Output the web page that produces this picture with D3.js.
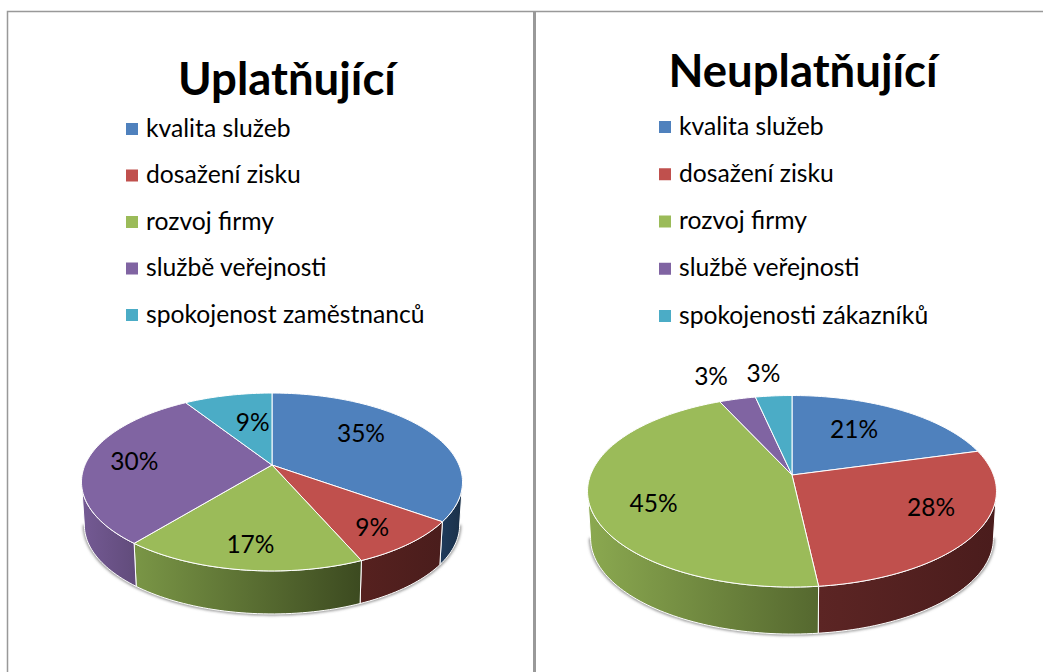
<!DOCTYPE html>
<html>
<head>
<meta charset="utf-8">
<script src="https://cdn.jsdelivr.net/npm/d3@7"></script>
<style>
    html, body { margin: 0; padding: 0; background: #fff; }
    svg { display: block; }
    text { font-family: Lato, "Noto Sans", sans-serif; fill: #000; }
</style>
</head>
<body>
<svg id="chart" width="1043" height="672"></svg>
<script>
// data
var leftTitle = "Uplatňující";
var leftCategories = ["kvalita služeb", "dosažení zisku", "rozvoj firmy", "službě veřejnosti", "spokojenost zaměstnanců"];
var leftValues = [35, 8.55, 17.25, 30.2, 9];

var rightTitle = "Neuplatňující";
var rightCategories = ["kvalita služeb", "dosažení zisku", "rozvoj firmy", "službě veřejnosti", "spokojenosti zákazníků"];
var rightValues = [20.7, 27.55, 44.95, 3.4, 3.4];

var sliceColors = ["#4f81bd", "#c0504d", "#9bbb59", "#8064a2", "#4bacc6"];

// side wall gradients, [left colour, right colour]
var leftSides = [["#1f3a5a", "#1a3048"], ["#56211f", "#4a1d1c"], ["#7a9646", "#3c4a20"], ["#745a94", "#624c7c"], ["#2f7f94", "#2f7f94"]];
var rightSides = [["#1f3a5a", "#1a3048"], ["#5c2524", "#4a1c1c"], ["#8ba950", "#55682f"], ["#745a94", "#624c7c"], ["#2f7f94", "#2f7f94"]];

var svg = d3.select("#chart");
var defs = svg.append("defs");
var percent = d3.format(".0%");

defs.append("filter").attr("id", "soft")
    .attr("x", "-5%").attr("y", "-5%").attr("width", "110%").attr("height", "115%")
    .append("feGaussianBlur").attr("stdDeviation", 1.6);

// frame lines of the table the charts sit in
var frame = svg.append("g").attr("stroke", "#999").attr("fill", "none");
frame.append("path").attr("d", "M7.5,672V11.5H1043").attr("stroke-width", 1.5);
frame.append("path").attr("d", "M534.5,11V672").attr("stroke-width", 3);

function drawPie(cfg) {
    var g = svg.append("g");
    var color = d3.scaleOrdinal().domain(cfg.categories).range(sliceColors);
    var legendY = d3.scalePoint().domain(cfg.categories).range(cfg.legendRange);
    var total = d3.sum(cfg.values);

    // disc seen in perspective: near edge is bigger, so the apex sits above the ellipse centre
    function project(angle, r) {
        var u = r * Math.sin(angle), v = -r * Math.cos(angle), w = 1 - cfg.k * v;
        return [cfg.cx + cfg.a * u / w, cfg.cy + cfg.b * v / w];
    }
    function lower(p) {
        return [cfg.cx + (p[0] - cfg.cx) * cfg.shrink, p[1] + cfg.depth];
    }
    function rim(a0, a1) {
        var n = Math.max(2, Math.ceil((a1 - a0) * 40)), pts = [];
        for (var i = 0; i <= n; i++) pts.push(project(a0 + (a1 - a0) * i / n, 1));
        return pts;
    }

    var line = d3.line();
    var arcs = d3.pie().sort(null)(cfg.values);
    var sideStart = Math.acos(-cfg.k), sideEnd = 2 * Math.PI - sideStart;

    // soft shadow below the wall
    var under = rim(sideStart, sideEnd).map(lower);
    g.append("path")
        .attr("d", line(under))
        .attr("fill", "none")
        .attr("stroke", "#777")
        .attr("stroke-width", 2.5)
        .attr("filter", "url(#soft)");

    // side walls
    arcs.forEach(function (d, i) {
        var a0 = Math.max(d.startAngle, sideStart), a1 = Math.min(d.endAngle, sideEnd);
        if (a1 <= a0) return;
        var top = rim(a0, a1), bottom = top.map(lower).reverse();
        var id = cfg.id + "-side-" + i;
        var grad = defs.append("linearGradient").attr("id", id)
            .attr("gradientUnits", "userSpaceOnUse")
            .attr("x1", d3.min(top, function (p) { return p[0]; })).attr("y1", 0)
            .attr("x2", d3.max(top, function (p) { return p[0]; })).attr("y2", 0);
        grad.append("stop").attr("offset", 0).attr("stop-color", cfg.sides[i][0]);
        grad.append("stop").attr("offset", 1).attr("stop-color", cfg.sides[i][1]);
        g.append("path")
            .attr("d", line(top.concat(bottom)) + "Z")
            .attr("fill", "url(#" + id + ")")
            .attr("stroke", "#fff")
            .attr("stroke-width", 1);
    });

    // top face
    arcs.forEach(function (d, i) {
        var pts = [project(0, 0)].concat(rim(d.startAngle, d.endAngle));
        g.append("path")
            .attr("d", line(pts) + "Z")
            .attr("fill", color(cfg.categories[i]))
            .attr("stroke", "#fff")
            .attr("stroke-width", 1)
            .attr("stroke-linejoin", "round");
    });

    // percent labels, from the middle of each slice plus a nudge
    arcs.forEach(function (d, i) {
        var p = project((d.startAngle + d.endAngle) / 2, 0.7);
        g.append("text")
            .attr("x", p[0] + cfg.nudges[i][0])
            .attr("y", p[1] + cfg.nudges[i][1])
            .attr("dy", "0.35em")
            .attr("text-anchor", "middle")
            .attr("font-size", 24.5)
            .text(percent(d.value / total));
    });

    g.append("text")
        .attr("x", cfg.titleX)
        .attr("y", cfg.titleY)
        .attr("text-anchor", "middle")
        .attr("font-size", 45.5)
        .attr("font-weight", 700)
        .text(cfg.title);

    var legend = g.selectAll(".legend-item").data(cfg.categories).enter().append("g")
        .attr("class", "legend-item")
        .attr("transform", function (d) { return "translate(" + cfg.legendX + "," + legendY(d) + ")"; });
    legend.append("rect")
        .attr("x", 0).attr("y", -5).attr("width", 12).attr("height", 12)
        .attr("fill", function (d) { return color(d); });
    legend.append("text")
        .attr("x", 20)
        .attr("dy", "0.35em")
        .attr("font-size", 24.7)
        .text(function (d) { return d; });
}

drawPie({
    id: "left", title: leftTitle, categories: leftCategories, values: leftValues, sides: leftSides,
    cx: 272, cy: 465, a: 187, b: 85.7, k: 0.191, depth: 43, shrink: 0.985,
    titleX: 287, titleY: 95, legendX: 126, legendRange: [128, 314],
    nudges: [[-21, -6], [9, 10], [-1, 11], [-8, 0], [13, 8]]
});

drawPie({
    id: "right", title: rightTitle, categories: rightCategories, values: rightValues, sides: rightSides,
    cx: 792, cy: 475, a: 201.5, b: 93, k: 0.17, depth: 47, shrink: 0.985,
    titleX: 803, titleY: 87, legendX: 659, legendRange: [126, 315],
    nudges: [[-16, 2], [14, -6.5], [2, 11], [-41, -43], [-15, -44]]
});
</script>
</body>
</html>
